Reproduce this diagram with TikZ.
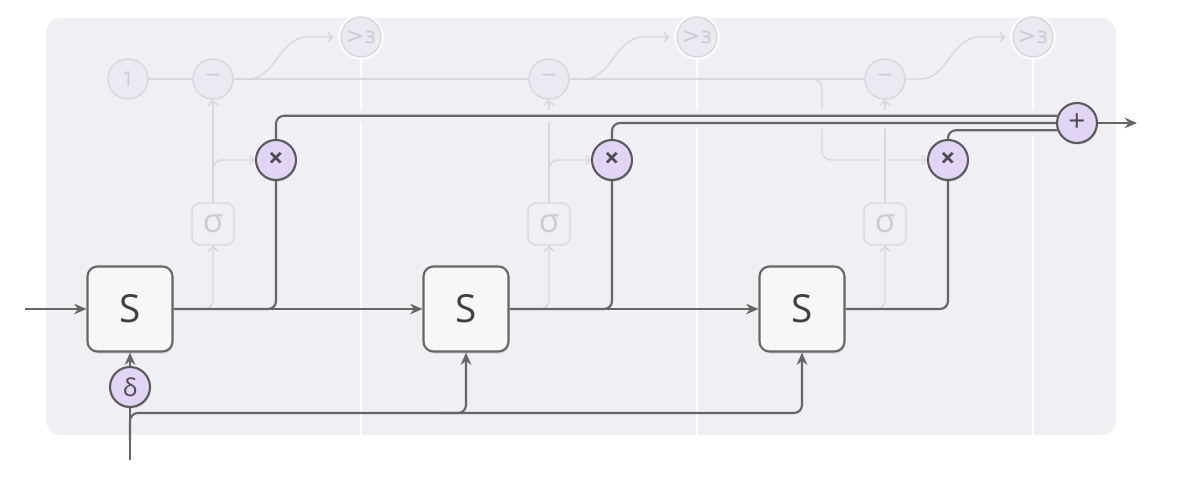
\documentclass[tikz,border=0pt]{standalone}
\usepackage{fontspec}
\setmainfont{Open Sans}
\newfontfamily\ipafont{DejaVu Sans}
\usetikzlibrary{arrows.meta,shadows}
\pgfdeclarelayer{back}
\pgfdeclarelayer{front}
\pgfsetlayers{back,main,front}

\definecolor{bgcol}{HTML}{F0EFF4}
\definecolor{wirecol}{HTML}{666666}
\definecolor{opfill}{HTML}{E2D4F5}
\definecolor{opdraw}{HTML}{5A5A5A}
\definecolor{sfill}{HTML}{F7F7F7}
\definecolor{fadecol}{HTML}{D8D7DC}
\definecolor{fadefill}{HTML}{ECE9F3}
\definecolor{fadetext}{HTML}{CDCBD3}

\tikzset{
  wire/.style={draw=wirecol, line width=1.2pt},
  wiregap/.style={draw=bgcol, line width=6.5pt},
  faded/.style={draw=fadecol, line width=0.8pt},
  fto/.style={-{Straight Barb[length=2.6pt,width=5.6pt]}},
  fadegap/.style={preaction={draw=bgcol, line width=4pt, arrows=-, shorten >=6pt, shorten <=6pt}},
  sepline/.style={draw=white, line width=1.4pt},
  sbox/.style={draw=wirecol, fill=sfill, line width=1.2pt, rounded corners=0.2cm,
    minimum size=1.7cm, inner sep=0pt, font=\fontsize{22}{22}\selectfont, text=black!75,
    drop shadow={shadow xshift=0.5pt, shadow yshift=-1.2pt, fill=black, opacity=0.1}},
  opnode/.style={circle, draw=opdraw, fill=opfill, line width=1.2pt, minimum size=0.8cm,
    inner sep=0pt, font=\fontsize{17}{17}\selectfont, text=black!70,
    drop shadow={shadow xshift=0.5pt, shadow yshift=-1pt, fill=black, opacity=0.1}},
  fadeop/.style={circle, draw=fadecol, fill=fadefill, line width=0.8pt, minimum size=0.8cm,
    inner sep=0pt, font=\fontsize{12}{12}\selectfont, text=fadetext},
  gtnode/.style={fadeop, font=\ipafont\fontsize{12.5}{12.5}\selectfont, preaction={draw=white, line width=3pt}},
  fadebox/.style={draw=fadecol, line width=0.8pt, rounded corners=0.16cm, minimum size=0.84cm,
    inner sep=0pt, font=\fontsize{19}{19}\selectfont, text=fadetext}
}

\begin{document}
\begin{tikzpicture}[x=0.02cm, y=-0.02cm, >={Stealth[length=7pt,width=6pt]}]
  \useasboundingbox (0,0) rectangle (1188,504);

  % 节点
  \begin{pgfonlayer}{front}
    \node[gtnode] (gt1) at (361,37) {>ɜ};
    \node[gtnode] (gt2) at (697,37) {>ɜ};
    \node[gtnode] (gt3) at (1033,37) {>ɜ};
    \node[fadeop] (one) at (128,79) {1};
    \node[fadeop, font=\fontsize{15}{15}\selectfont] (mn1) at (213,79) {−};
    \node[fadeop, font=\fontsize{15}{15}\selectfont] (mn2) at (549,79) {−};
    \node[fadeop, font=\fontsize{15}{15}\selectfont] (mn3) at (885,79) {−};
    \node[fadebox] (sg1) at (213,224) {σ};
    \node[fadebox] (sg2) at (549,224) {σ};
    \node[fadebox] (sg3) at (885,224) {σ};
    \node[opnode, font=\bfseries\fontsize{15}{15}\selectfont] (m1) at (276,160) {×};
    \node[opnode, font=\bfseries\fontsize{15}{15}\selectfont] (m2) at (612,160) {×};
    \node[opnode, font=\bfseries\fontsize{15}{15}\selectfont] (m3) at (948,160) {×};
    \node[opnode] (plus) at (1077,123) {+};
    \node[sbox] (s1) at (130,309) {S};
    \node[sbox] (s2) at (466,309) {S};
    \node[sbox] (s3) at (802,309) {S};
    \node[opnode, font=\fontsize{14}{14}\selectfont] (dl) at (130,387) {δ};
  \end{pgfonlayer}
  \coordinate (inl) at (25,309);
  \coordinate (inb) at (130,460);
  \coordinate (bj) at (130,440);
  \coordinate (bl) at (130,413);
  \coordinate (bk) at (440,413);
  \coordinate (br) at (810,79);
  \coordinate (outr) at (1137,123);

  % 背景
  \begin{pgfonlayer}{back}
    \fill[bgcol, rounded corners=0.3cm] (46,18) rectangle (1116,435);
    \foreach \i in {1,2,3}
      \draw[sepline] (gt\i.south) -- ++(0,378);
  \end{pgfonlayer}

  % 淡色连线
  \draw[faded] (one) -- (mn1) (mn1) -- (mn2) (mn2) -- (mn3);
  \foreach \i in {1,2,3}
    \draw[faded, fto, shorten >=4pt] (mn\i.east) -- ++(14,0) to[out=0,in=180] ++(60,-42) -- (gt\i);
  \foreach \i in {1,2,3}
    \draw[faded, fto, rounded corners=5pt] (s\i.east) -| (sg\i.south);
  \foreach \i in {1,2}
    \draw[faded, fto, rounded corners=5pt] (sg\i.north) |- (m\i.west);
  \draw[faded, fto, rounded corners=5pt] (br) -| (822,160) -- (m3.west);
  \draw[faded, fto] (sg1.north) -- (mn1.south);
  \draw[faded, fto] (sg2.north) -- (mn2.south);
  \draw[faded, fto, fadegap] (sg3.north) -- (mn3.south);

  % 主连线
  \draw[wire, ->] (inl) -- (s1);
  \draw[wire, ->] (s1) -- (s2);
  \draw[wire, ->] (s2) -- (s3);
  \foreach \i in {1,2,3}
    \draw[wire, rounded corners=4.5pt] (s\i.east) -| (m\i.south);
  \foreach \i/\a in {1/160,2/180,3/200}
    \draw[wiregap, rounded corners=4.5pt] (m\i.north) |- (plus.\a);
  \foreach \i/\a in {1/160,2/180,3/200}
    \draw[wire, rounded corners=4.5pt] (m\i.north) |- (plus.\a);
  \draw[wire, ->] (plus) -- (outr);

  % 底部输入
  \draw[wire] (inb) -- (dl);
  \draw[wire, ->] (dl) -- (s1);
  \draw[wire, ->, rounded corners=4.5pt] (bj) |- (s3.south |- bl) -- (s3.south);
  \draw[wire, ->, rounded corners=4.5pt] (bk) -| (s2.south);
\end{tikzpicture}
\end{document}
